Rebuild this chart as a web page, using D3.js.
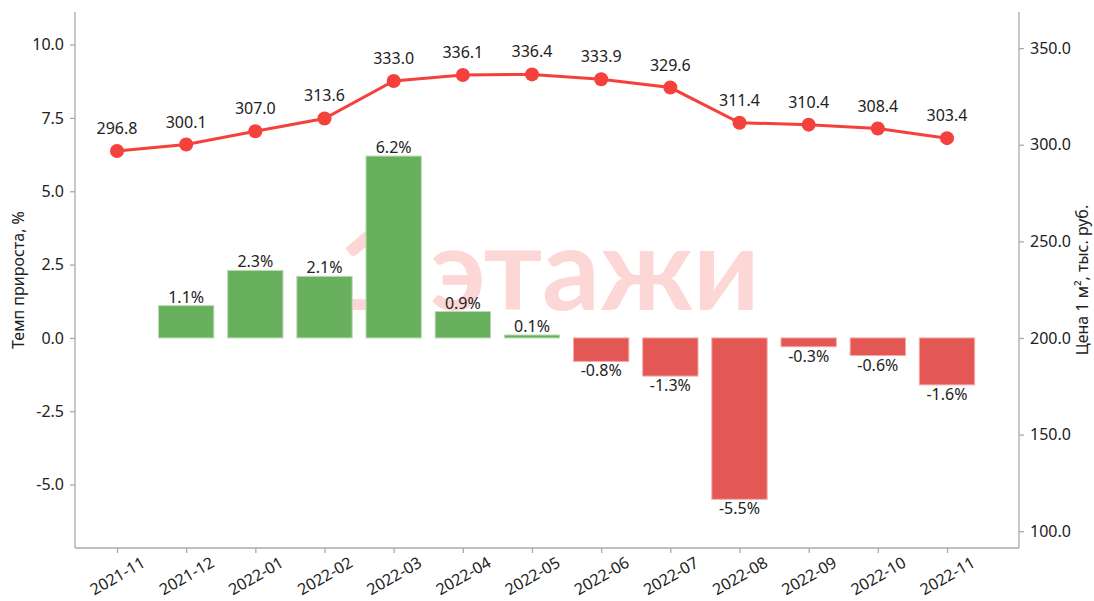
<!DOCTYPE html>
<html><head><meta charset="utf-8">
<script src="https://cdn.jsdelivr.net/npm/d3@7"></script>
<style>body{margin:0;background:#fff}svg{display:block}text{font-family:"Noto Sans","DejaVu Sans",sans-serif}</style>
</head><body><svg id="c" width="1094" height="601"></svg>
<script>
const months = ["2021-11","2021-12","2022-01","2022-02","2022-03","2022-04","2022-05","2022-06","2022-07","2022-08","2022-09","2022-10","2022-11"];
const growth = [null,1.1,2.3,2.1,6.2,0.9,0.1,-0.8,-1.3,-5.5,-0.3,-0.6,-1.6];
const price = [296.8,300.1,307.0,313.6,333.0,336.1,336.4,333.9,329.6,311.4,310.4,308.4,303.4];
const leftTicks = [-5.0,-2.5,0.0,2.5,5.0,7.5,10.0];
const rightTicks = [100,150,200,250,300,350];

const svg = d3.select("#c");
const L=75,R=1019,T=12,B=548;
const FS=16;
const x = d3.scalePoint().domain(months).range([117,947]);
const step = x.step();
const yL = d3.scaleLinear().domain([-7.16,11.11]).range([B,T]);
const yR = d3.scaleLinear().domain([91.3,368.7]).range([B,T]);
const fmt = v => v.toFixed(1);

// watermark
const wm = svg.append("text").attr("y",310)
  .attr("font-size",114).attr("font-weight","bold").attr("fill","#fdd6d6")
  .style("font-family","Lato, sans-serif");
wm.append("tspan").attr("x",338).text("1");
wm.append("tspan").attr("x",430).text("этажи");

// bars
const bw = step*0.8;
const bd = months.map((m,i)=>({m,v:growth[i]})).filter(d=>d.v!==null);
svg.selectAll("rect.bar").data(bd).enter().append("rect")
  .attr("x",d=>x(d.m)-bw/2).attr("width",bw)
  .attr("y",d=>yL(Math.max(0,d.v))).attr("height",d=>Math.abs(yL(d.v)-yL(0)))
  .attr("fill",d=>d.v>=0?"#69b05e":"#e35854")
  .attr("stroke",d=>d.v>=0?"#b9dcb3":"#f2aaa8").attr("stroke-width",1);
svg.selectAll("text.bl").data(bd).enter().append("text")
  .attr("x",d=>x(d.m)).attr("y",d=>d.v>=0?yL(d.v)-3:yL(d.v)+15)
  .attr("text-anchor","middle").attr("font-size",FS).attr("fill","#222")
  .text(d=>fmt(d.v)+"%");

// line
const pd = months.map((m,i)=>({m,v:price[i]}));
svg.append("path").datum(pd).attr("fill","none").attr("stroke","#f5413c").attr("stroke-width",3)
  .attr("d",d3.line().x(d=>x(d.m)).y(d=>yR(d.v)));
svg.selectAll("circle.pt").data(pd).enter().append("circle")
  .attr("cx",d=>x(d.m)).attr("cy",d=>yR(d.v)).attr("r",7).attr("fill","#f5413c");
svg.selectAll("text.pl").data(pd).enter().append("text")
  .attr("x",d=>x(d.m)).attr("y",d=>yR(d.v)-17)
  .attr("text-anchor","middle").attr("font-size",FS).attr("fill","#222")
  .text(d=>fmt(d.v));

// axes
const ax = g=>{g.selectAll(".domain,.tick line").attr("stroke","#aaa").attr("stroke-width",1.3);
  g.selectAll("text").attr("font-size",FS).attr("fill","#222").style("font-family","'Noto Sans', sans-serif");};
svg.append("g").attr("transform",`translate(${L},0)`)
  .call(d3.axisLeft(yL).tickValues(leftTicks).tickFormat(fmt).tickSizeOuter(0).tickSize(5).tickPadding(6))
  .call(ax).select(".domain").attr("d",`M0,${T}V${B}`);
svg.append("g").attr("transform",`translate(${R},0)`)
  .call(d3.axisRight(yR).tickValues(rightTicks).tickFormat(fmt).tickSizeOuter(0).tickSize(5).tickPadding(6))
  .call(ax).select(".domain").attr("d",`M0,${T}V${B}`);
const gx = svg.append("g").attr("transform",`translate(0,${B})`)
  .call(d3.axisBottom(x).tickSizeOuter(0).tickSize(5)).call(ax);
gx.select(".domain").attr("d",`M${L},0H${R}`);
gx.selectAll("text").attr("y",0).attr("dy","0.35em").attr("text-anchor","middle")
  .attr("transform","translate(0,28) rotate(-30)");

svg.append("text").attr("transform","translate(24,280) rotate(-90)").attr("text-anchor","middle")
  .attr("font-size",FS).attr("fill","#222").text("Темп прироста, %");
svg.append("text").attr("transform","translate(1088,280) rotate(-90)").attr("text-anchor","middle")
  .attr("font-size",FS).attr("fill","#222").text("Цена 1 м², тыс. руб.");
</script></body></html>
